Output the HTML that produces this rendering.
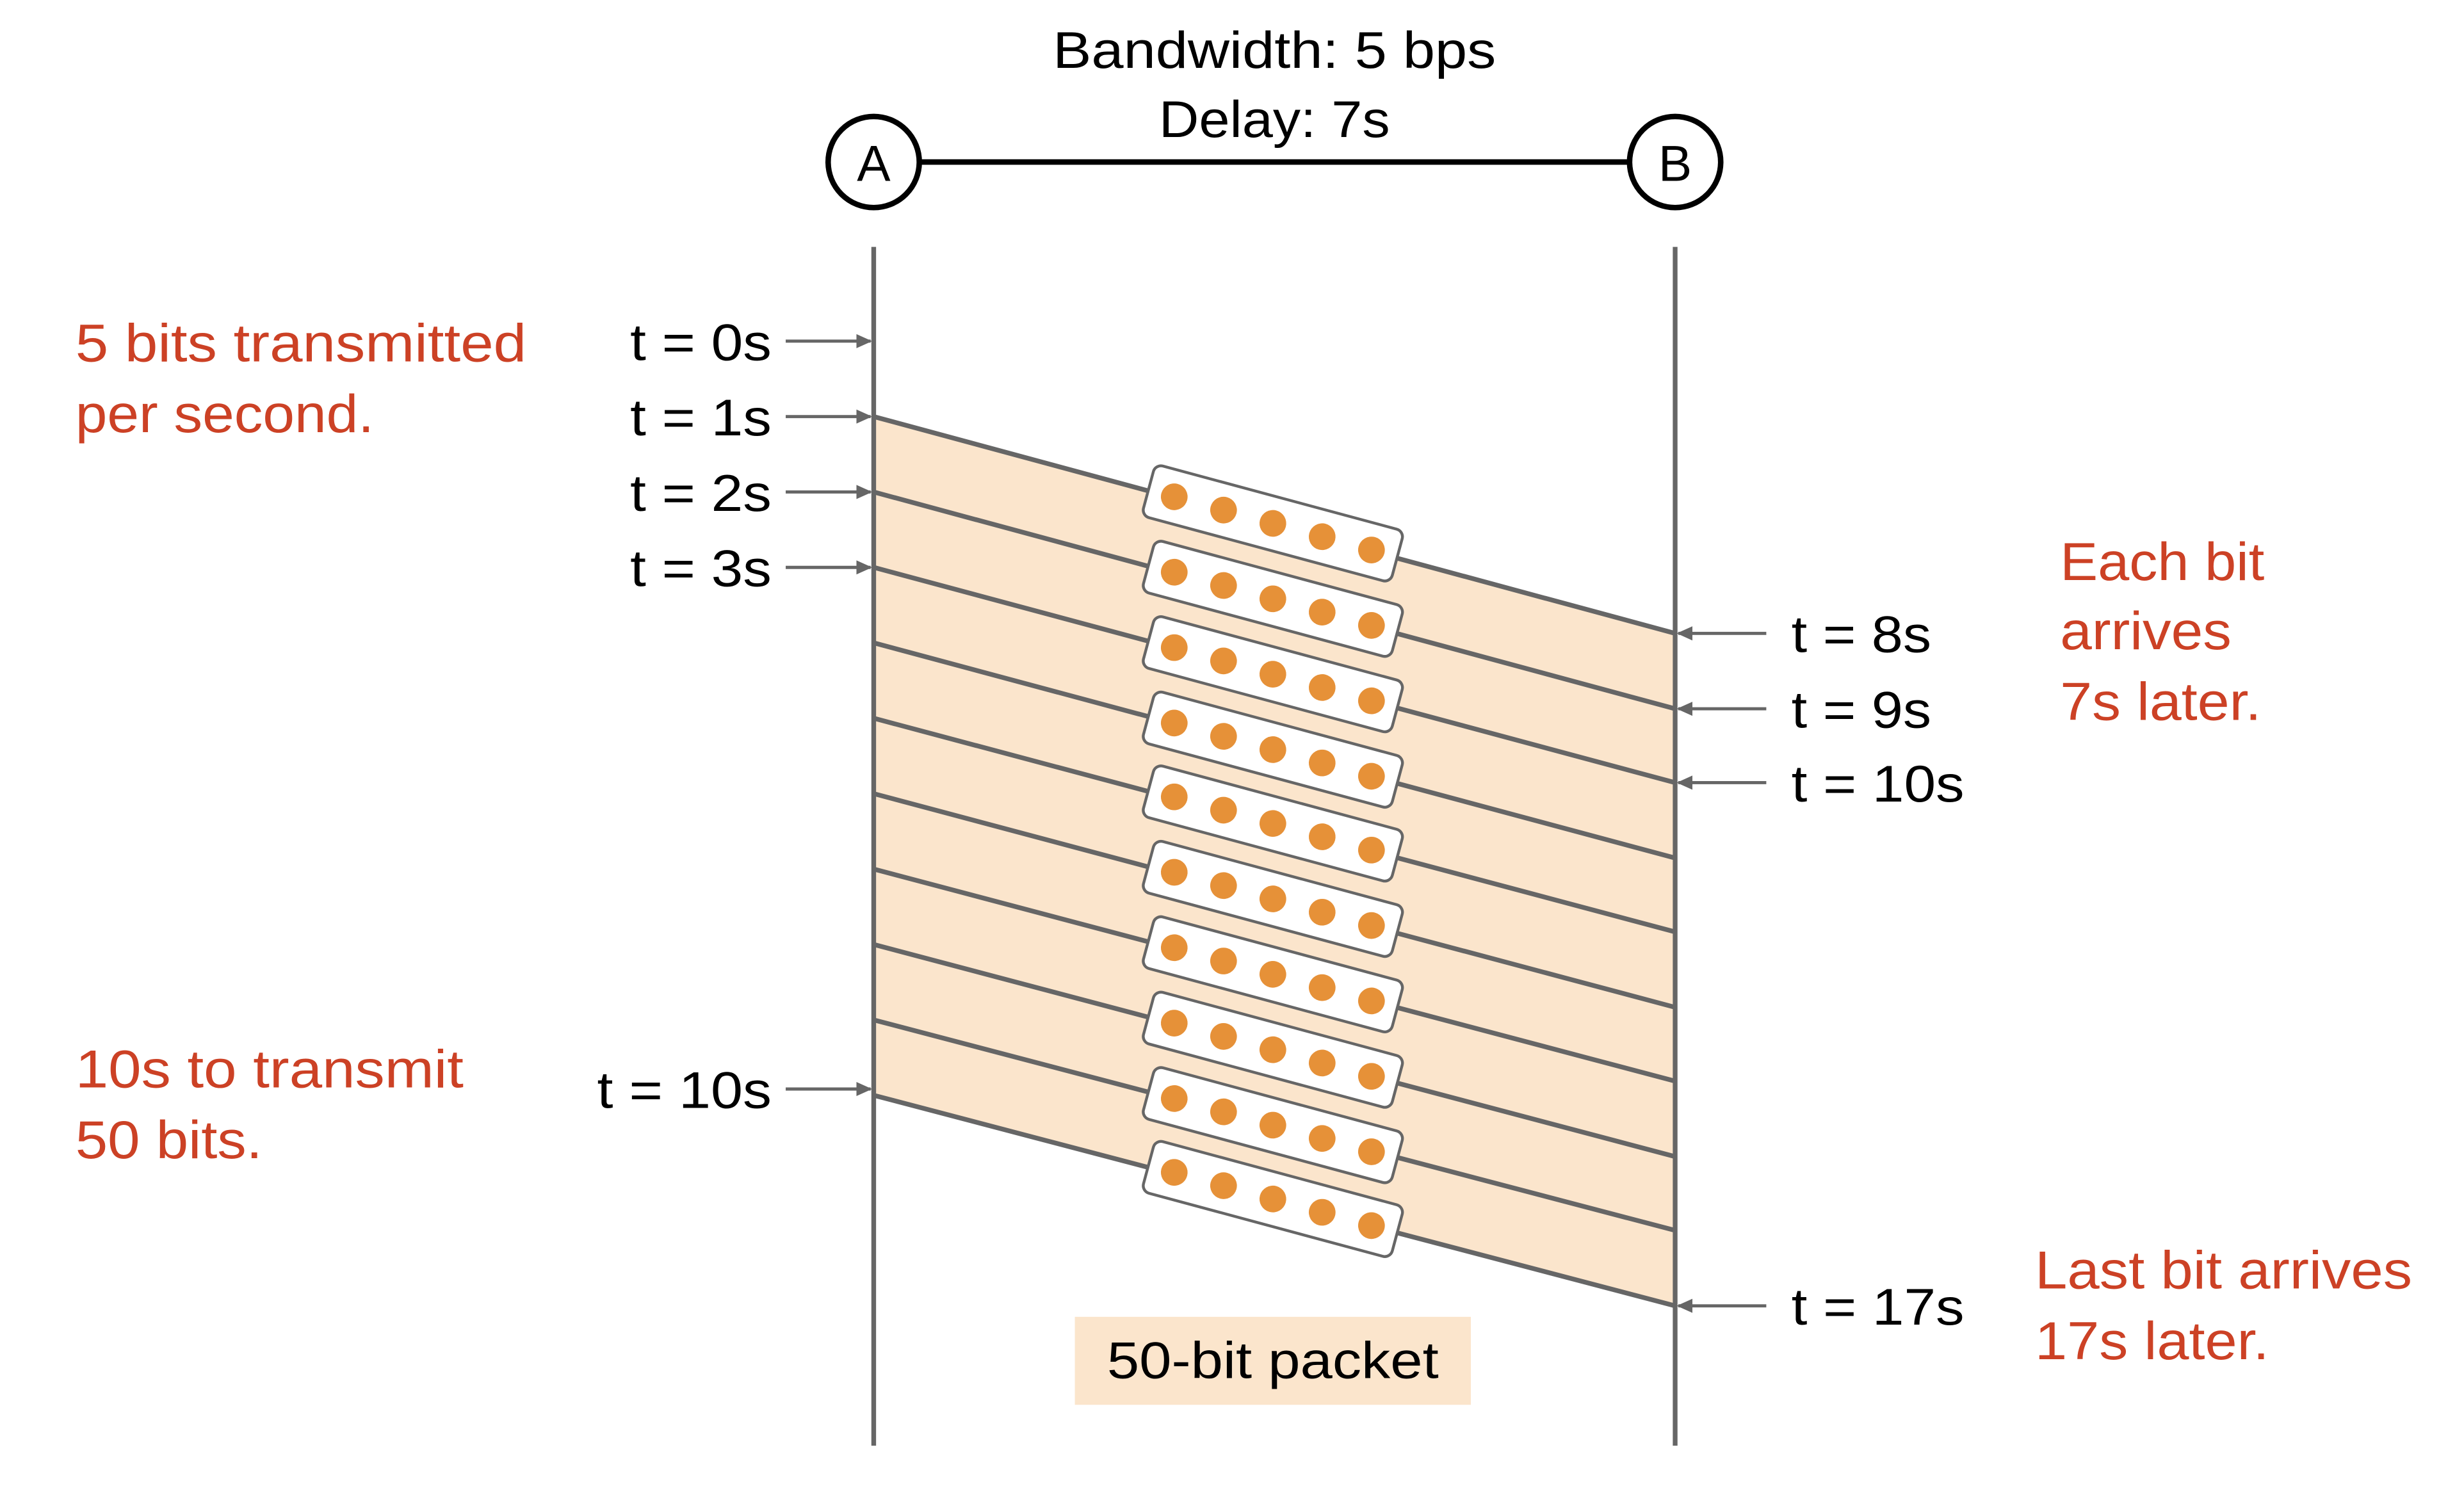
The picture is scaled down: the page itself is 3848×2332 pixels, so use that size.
<!DOCTYPE html>
<html><head><meta charset="utf-8"><style>
html,body{margin:0;padding:0;background:#fff;}
svg{display:block;}
text{font-family:"Liberation Sans",sans-serif;}
</style></head><body>
<svg width="3848" height="2332" viewBox="0 0 1568 950" xmlns="http://www.w3.org/2000/svg">
<defs>
<marker id="ar" markerWidth="10" markerHeight="10" refX="9" refY="5" orient="auto" markerUnits="userSpaceOnUse">
<path d="M0,0.5 L10,5 L0,9.5 z" fill="#666"/>
</marker>
<g id="pk">
<rect x="-82" y="-17" width="164" height="34" rx="5" fill="#fff" stroke="#666" stroke-width="1.8"/>
<ellipse cx="-65" cy="0" rx="8.5" ry="8.5" fill="#e69138"/>
<ellipse cx="-32.5" cy="0" rx="8.5" ry="8.5" fill="#e69138"/>
<ellipse cx="0" cy="0" rx="8.5" ry="8.5" fill="#e69138"/>
<ellipse cx="32.5" cy="0" rx="8.5" ry="8.5" fill="#e69138"/>
<ellipse cx="65" cy="0" rx="8.5" ry="8.5" fill="#e69138"/>
</g>
</defs>
<rect width="1568" height="950" fill="#fff"/>
<text x="811" y="43" font-size="33" text-anchor="middle" textLength="282" lengthAdjust="spacingAndGlyphs">Bandwidth: 5 bps</text>
<text x="811" y="87" font-size="33" text-anchor="middle" textLength="147" lengthAdjust="spacingAndGlyphs">Delay: 7s</text>
<line x1="585" y1="103" x2="1037" y2="103" stroke="#000" stroke-width="3.5"/>
<circle cx="556" cy="103" r="29" fill="#fff" stroke="#000" stroke-width="3.5"/>
<circle cx="1066" cy="103" r="29" fill="#fff" stroke="#000" stroke-width="3.5"/>
<text x="556" y="115" font-size="32" text-anchor="middle">A</text>
<text x="1066" y="115" font-size="32" text-anchor="middle">B</text>
<polygon points="556,265 1066,403 1066,831 556,697" fill="#fbe5cc"/>
<g stroke="#666" stroke-width="3">
<line x1="556" y1="265" x2="1066" y2="403"/>
<line x1="556" y1="313" x2="1066" y2="451"/>
<line x1="556" y1="361" x2="1066" y2="498"/>
<line x1="556" y1="409" x2="1066" y2="546"/>
<line x1="556" y1="457" x2="1066" y2="593"/>
<line x1="556" y1="505" x2="1066" y2="641"/>
<line x1="556" y1="553" x2="1066" y2="688"/>
<line x1="556" y1="601" x2="1066" y2="736"/>
<line x1="556" y1="649" x2="1066" y2="783"/>
<line x1="556" y1="697" x2="1066" y2="831"/>
<line x1="556" y1="157" x2="556" y2="920"/>
<line x1="1066" y1="157" x2="1066" y2="920"/>
</g>
<g transform="translate(810,333) rotate(15.1)"><use href="#pk"/></g>
<g transform="translate(810,381) rotate(15.1)"><use href="#pk"/></g>
<g transform="translate(810,429) rotate(15.1)"><use href="#pk"/></g>
<g transform="translate(810,477) rotate(15.1)"><use href="#pk"/></g>
<g transform="translate(810,524) rotate(15.1)"><use href="#pk"/></g>
<g transform="translate(810,572) rotate(15.1)"><use href="#pk"/></g>
<g transform="translate(810,620) rotate(15.1)"><use href="#pk"/></g>
<g transform="translate(810,668) rotate(15.1)"><use href="#pk"/></g>
<g transform="translate(810,716) rotate(15.1)"><use href="#pk"/></g>
<g transform="translate(810,763) rotate(15.1)"><use href="#pk"/></g>
<g stroke="#666" stroke-width="2" marker-end="url(#ar)">
<line x1="500" y1="217" x2="554" y2="217"/>
<line x1="500" y1="265" x2="554" y2="265"/>
<line x1="500" y1="313" x2="554" y2="313"/>
<line x1="500" y1="361" x2="554" y2="361"/>
<line x1="500" y1="693" x2="554" y2="693"/>
<line x1="1124" y1="403" x2="1068" y2="403"/>
<line x1="1124" y1="451" x2="1068" y2="451"/>
<line x1="1124" y1="498" x2="1068" y2="498"/>
<line x1="1124" y1="831" x2="1068" y2="831"/>
</g>
<g font-size="33">
<text x="491" y="229" text-anchor="end" textLength="90" lengthAdjust="spacingAndGlyphs">t = 0s</text>
<text x="491" y="277" text-anchor="end" textLength="90" lengthAdjust="spacingAndGlyphs">t = 1s</text>
<text x="491" y="325" text-anchor="end" textLength="90" lengthAdjust="spacingAndGlyphs">t = 2s</text>
<text x="491" y="373" text-anchor="end" textLength="90" lengthAdjust="spacingAndGlyphs">t = 3s</text>
<text x="491" y="705" text-anchor="end" textLength="111" lengthAdjust="spacingAndGlyphs">t = 10s</text>
<text x="1140" y="415" textLength="89" lengthAdjust="spacingAndGlyphs">t = 8s</text>
<text x="1140" y="463" textLength="89" lengthAdjust="spacingAndGlyphs">t = 9s</text>
<text x="1140" y="510" textLength="110" lengthAdjust="spacingAndGlyphs">t = 10s</text>
<text x="1140" y="843" textLength="110" lengthAdjust="spacingAndGlyphs">t = 17s</text>
</g>
<g font-size="34" fill="#cc4125">
<text x="48" y="230" textLength="287" lengthAdjust="spacingAndGlyphs">5 bits transmitted</text>
<text x="48" y="275" textLength="190" lengthAdjust="spacingAndGlyphs">per second.</text>
<text x="48" y="692" textLength="247" lengthAdjust="spacingAndGlyphs">10s to transmit</text>
<text x="48" y="737" textLength="119" lengthAdjust="spacingAndGlyphs">50 bits.</text>
<text x="1311" y="369" textLength="130" lengthAdjust="spacingAndGlyphs">Each bit</text>
<text x="1311" y="413" textLength="109" lengthAdjust="spacingAndGlyphs">arrives</text>
<text x="1311" y="458" textLength="128" lengthAdjust="spacingAndGlyphs">7s later.</text>
<text x="1295" y="820" textLength="240" lengthAdjust="spacingAndGlyphs">Last bit arrives</text>
<text x="1295" y="865" textLength="149" lengthAdjust="spacingAndGlyphs">17s later.</text>
</g>
<rect x="684" y="838" width="252" height="56" fill="#fbe5cc"/>
<text x="810" y="877" font-size="33" text-anchor="middle" textLength="211" lengthAdjust="spacingAndGlyphs">50-bit packet</text>
</svg>
</body></html>
